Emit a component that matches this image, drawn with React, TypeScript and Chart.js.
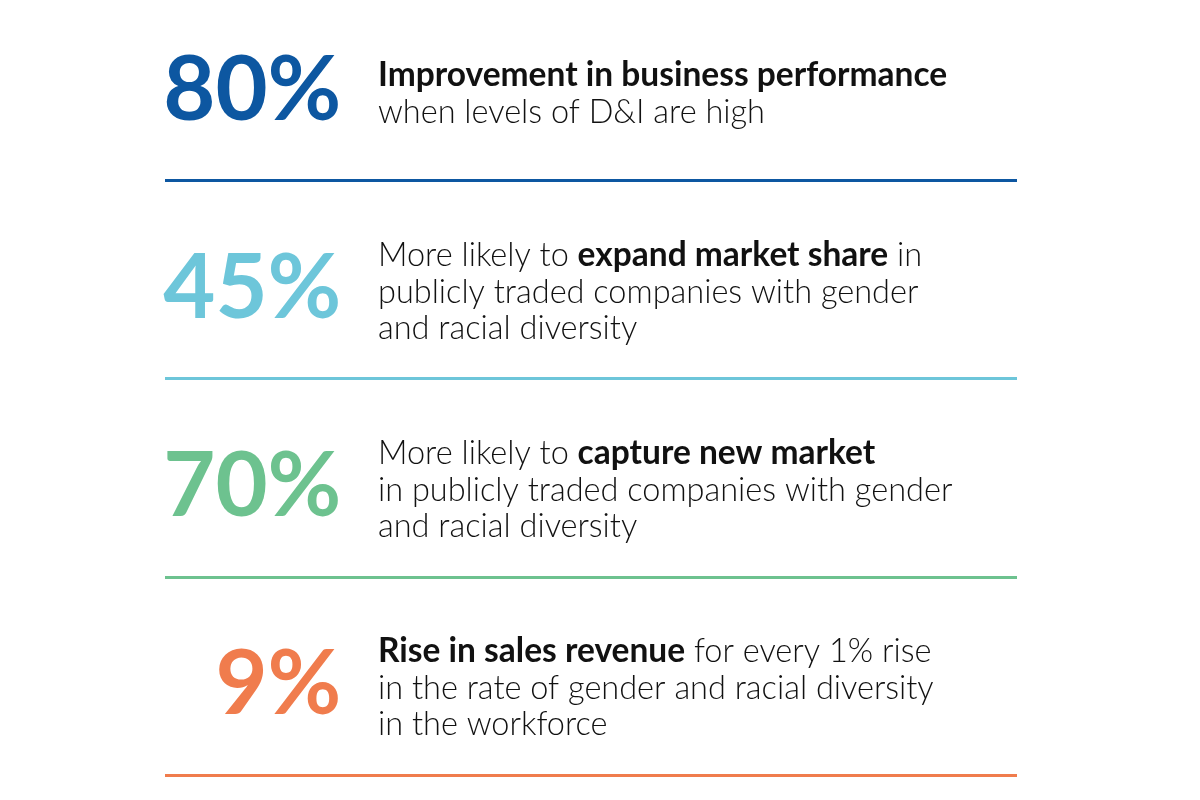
import React, { useEffect, useRef } from "react";
import { Chart, registerables } from "chart.js";

Chart.register(...registerables);

// ---- data ----
const percentages: number[] = [80, 45, 70, 9];
const statColors: string[] = ["#0d57a1", "#6dc6da", "#6dc28f", "#f07c4d"];

// each row: lines; each line: segments [text, bold]
const row1: [string, boolean][][] = [
  [["Improvement in business performance", true]],
  [["when levels of D&I are high", false]],
];
const row2: [string, boolean][][] = [
  [["More likely to ", false], ["expand market share", true], [" in", false]],
  [["publicly traded companies with gender", false]],
  [["and racial diversity", false]],
];
const row3: [string, boolean][][] = [
  [["More likely to ", false], ["capture new market", true]],
  [["in publicly traded companies with gender", false]],
  [["and racial diversity", false]],
];
const row4: [string, boolean][][] = [
  [["Rise in sales revenue", true], [" for every 1% rise", false]],
  [["in the rate of gender and racial diversity", false]],
  [["in the workforce", false]],
];
const descriptions = [row1, row2, row3, row4];

// layout constants (in scale units)
const NUMBER_X = 0.207; // right edge of the big number
const TEXT_X = 0.25; // left edge of the description
const ROW_CENTER_OFFSET = 0.53;

const NUM_SIZE = 90;
const NUM_FONT = "bold " + NUM_SIZE + "px Lato";
const TEXT_SIZE = 32.5;
const BOLD_SIZE = 33.5;
const LINE_H = 36.5;

const infographicPlugin = {
  id: "infographic",
  afterDatasetsDraw(chart: any) {
    const ctx = chart.ctx as CanvasRenderingContext2D;
    const meta = chart.getDatasetMeta(0);
    const xScale = chart.scales.x;
    ctx.save();
    meta.data.forEach((el: any, i: number) => {
      const cy = el.y;
      // big number
      ctx.font = NUM_FONT;
      ctx.fillStyle = statColors[i];
      ctx.textAlign = "right";
      ctx.textBaseline = "alphabetic";
      ctx.fillText(percentages[i] + "%", el.x, cy + NUM_SIZE * 0.36);

      // description
      const lines = descriptions[i];
      const tx = xScale.getPixelForValue(TEXT_X);
      const n = lines.length;
      const c = cy + 5;
      ctx.textAlign = "left";
      ctx.fillStyle = "#111111";
      lines.forEach((segs, k) => {
        const base = c - ((n - 1) / 2) * LINE_H + k * LINE_H + TEXT_SIZE * 0.36;
        let x = tx;
        segs.forEach(([t, b]) => {
          ctx.font = b ? "bold " + BOLD_SIZE + "px Lato" : "300 " + TEXT_SIZE + "px Lato";
          ctx.fillText(t, x, base);
          x += ctx.measureText(t).width;
        });
      });
    });
    ctx.restore();
  },
};

export default function App() {
  const canvasRef = useRef<HTMLCanvasElement | null>(null);

  useEffect(() => {
    document.body.style.margin = "0";
    document.body.style.background = "#ffffff";
    const canvas = canvasRef.current;
    if (!canvas) return;
    const chart = new Chart(canvas, {
      type: "scatter",
      data: {
        datasets: [
          {
            label: "stats",
            data: percentages.map((v, i) => ({ x: NUMBER_X, y: i + ROW_CENTER_OFFSET })),
            pointRadius: 0,
            pointHoverRadius: 0,
          },
        ],
      },
      options: {
        animation: false,
        responsive: true,
        maintainAspectRatio: false,
        layout: { padding: { left: 165, right: 183, top: 0, bottom: 0 } },
        plugins: {
          legend: { display: false },
          tooltip: { enabled: false },
        },
        scales: {
          x: { type: "linear", display: false, min: 0, max: 1 },
          y: {
            type: "linear",
            reverse: true,
            min: 17 / 198,
            max: 817 / 198,
            afterBuildTicks: (s: any) => {
              s.ticks = percentages.map((_, i) => ({ value: i + 1 }));
            },
            afterFit: (s: any) => {
              s.width = 0;
            },
            ticks: { display: false },
            border: { display: false },
            grid: {
              drawTicks: false,
              lineWidth: 3,
              color: (c: any) => statColors[c.index] ?? "transparent",
            },
          },
        },
      },
      plugins: [infographicPlugin],
    });
    return () => chart.destroy();
  }, []);

  return (
    <div style={{ position: "absolute", left: 0, top: 0, width: 1200, height: 800, background: "#fff" }}>
      <canvas ref={canvasRef} />
    </div>
  );
}
